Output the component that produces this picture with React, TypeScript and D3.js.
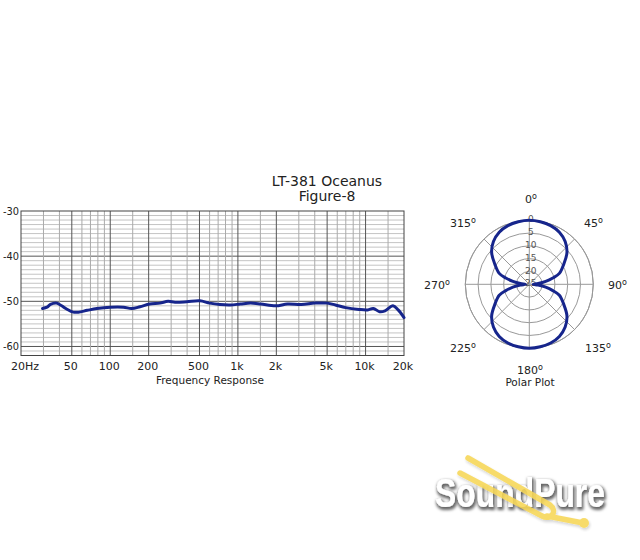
import React from "react";
import * as d3 from "d3";

// ---------- data ----------
const titleLines = ["LT-381 Oceanus", "Figure-8"];

// frequency response (Hz, dB)
const respFreq = [29.5, 32, 34, 38, 41.6, 45.5, 51.4, 56.2, 66, 78.6, 100, 127, 147, 171, 204, 245, 284, 322, 398, 503, 601, 723, 869, 1045, 1256, 1510, 1975, 2450, 3140, 4020, 5000, 5800, 6980, 8890, 10400, 11500, 12900, 14200, 16400, 18000, 20000];
const respDb = [-51.6, -51.3, -50.7, -50.4, -51.0, -51.7, -52.4, -52.4, -52.0, -51.6, -51.3, -51.3, -51.6, -51.2, -50.6, -50.4, -50.0, -50.2, -50.1, -49.9, -50.4, -50.7, -50.8, -50.6, -50.4, -50.6, -51.0, -50.6, -50.7, -50.4, -50.4, -50.8, -51.4, -51.8, -51.9, -51.6, -52.3, -52.1, -51.0, -51.9, -53.6];

const yTicks = [-30, -40, -50, -60];
const xTickValues = [20, 50, 100, 200, 500, 1000, 2000, 5000, 10000, 20000];
const xTickLabels = ["20Hz", "50", "100", "200", "500", "1k", "2k", "5k", "10k", "20k"];
const xMinorGrid = [30, 40, 60, 70, 80, 90, 150, 300, 400, 600, 700, 800, 900, 1500, 3000, 4000, 6000, 7000, 8000, 9000, 15000];

// polar pattern (degrees, dB)
const polarAngles = [0, 10, 20, 30, 40, 50, 60, 70, 75, 80, 85, 90, 95, 100, 105, 110, 120, 130, 140, 150, 160, 170, 180, 190, 200, 210, 220, 230, 240, 250, 255, 260, 265, 270, 275, 280, 285, 290, 300, 310, 320, 330, 340, 350];
const polarDb = [0, -0.2, -0.6, -1.5, -3.2, -5.8, -9.5, -12.5, -15.5, -18.5, -21.5, -23.5, -21.5, -18.5, -15.5, -12.5, -9.5, -5.8, -3.2, -1.5, -0.6, -0.2, 0, -0.2, -0.6, -1.5, -3.2, -5.8, -9.5, -12.5, -15.5, -18.5, -21.5, -23.5, -21.5, -18.5, -15.5, -12.5, -9.5, -5.8, -3.2, -1.5, -0.6, -0.2];
const ringDb = [0, -5, -10, -15, -20, -25];
const ringLabels = ["0", "5", "10", "15", "20", "25"];
const spokeAngles = [0, 45, 90, 135, 180, 225, 270, 315];
const spokeLabels = ["0", "45", "90", "135", "180", "225", "270", "315"];

const FONT = "'DejaVu Sans', Verdana, sans-serif";
const CURVE = "#16258c";
const YELLOW = "#f7d757";

function Deg({ x, y, label, anchor }: { x: number; y: number; label: string; anchor: string }) {
  return (
    <text x={x} y={y} textAnchor={anchor} fontFamily={FONT} fontSize={11} fill="#222">
      {label}
      <tspan fontSize={8} dy={-4}>o</tspan>
    </text>
  );
}

export default function App() {
  // ---- frequency response chart ----
  const fx = d3.scaleLog().domain([20, 20000]).range([21, 404]);
  const fy = d3.scaleLinear().domain([-30, -62]).range([211, 355.5]);
  const dbLines = d3.range(-31, -62, -1);
  const line = d3
    .line<number>()
    .x((_, i) => fx(respFreq[i]))
    .y((d) => fy(d))
    .curve(d3.curveCatmullRom.alpha(0.5));

  // ---- polar ----
  const cx = 529.3, cy = 284.3;
  const pr = d3.scaleLinear().domain([-25, 0]).range([0, 64]).clamp(true);
  const outerR = pr(5);
  const polarLine = d3
    .lineRadial<number>()
    .angle((_, i) => (polarAngles[i] * Math.PI) / 180)
    .radius((d) => pr(d))
    .curve(d3.curveCatmullRomClosed.alpha(0.5));

  const labelPos = [
    { x: 531, y: 203, a: "middle" },
    { x: 584, y: 227, a: "start" },
    { x: 608, y: 289, a: "start" },
    { x: 585, y: 352, a: "start" },
    { x: 530, y: 374, a: "middle" },
    { x: 476, y: 352, a: "end" },
    { x: 450, y: 289, a: "end" },
    { x: 476, y: 227, a: "end" },
  ];

  return (
    <svg width={640} height={560} style={{ position: "absolute", left: 0, top: 0, background: "#fff" }}>
      <defs>
        <filter id="shadow" x="-20%" y="-40%" width="140%" height="180%">
          <feMorphology in="SourceAlpha" operator="dilate" radius="0.6" result="d" />
          <feGaussianBlur in="d" stdDeviation="1.4" result="b" />
          <feOffset in="b" dx="1" dy="1.5" result="o" />
          <feFlood floodColor="#000" floodOpacity="0.6" />
          <feComposite in2="o" operator="in" result="s" />
          <feMerge>
            <feMergeNode in="s" />
            <feMergeNode in="SourceGraphic" />
          </feMerge>
        </filter>
        <filter id="fshadow" x="-20%" y="-40%" width="140%" height="180%">
          <feGaussianBlur in="SourceAlpha" stdDeviation="1.5" result="b" />
          <feOffset in="b" dx="1" dy="1.5" result="o" />
          <feFlood floodColor="#000" floodOpacity="0.2" />
          <feComposite in2="o" operator="in" result="s" />
          <feMerge>
            <feMergeNode in="s" />
            <feMergeNode in="SourceGraphic" />
          </feMerge>
        </filter>
      </defs>

      {/* title */}
      {titleLines.map((t, i) => (
        <text key={t} x={327} y={186 + i * 15} textAnchor="middle" fontFamily={FONT} fontSize={14} fill="#222">
          {t}
        </text>
      ))}

      {/* frequency grid */}
      <g>
        {dbLines.map((d) => (
          <line key={"h" + d} x1={fx(20)} x2={fx(20000)} y1={fy(d)} y2={fy(d)} stroke={d % 10 === 0 ? "#555" : "#c4c4c4"} strokeWidth={1} />
        ))}
        {xMinorGrid.map((f) => (
          <line key={"m" + f} x1={fx(f)} x2={fx(f)} y1={fy(-30)} y2={fy(-62)} stroke="#aaa" strokeWidth={1} />
        ))}
        {xTickValues.slice(1, -1).map((f) => (
          <line key={"M" + f} x1={fx(f)} x2={fx(f)} y1={fy(-30)} y2={fy(-62)} stroke="#555" strokeWidth={1} />
        ))}
        <rect x={fx(20)} y={fy(-30)} width={fx(20000) - fx(20)} height={fy(-62) - fy(-30)} fill="none" stroke="#444" strokeWidth={1} />
      </g>
      {yTicks.map((t) => (
        <text key={t} x={19} y={fy(t) + 4} textAnchor="end" fontFamily={FONT} fontSize={11} fill="#222" textLength={16} lengthAdjust="spacingAndGlyphs">
          {t}
        </text>
      ))}
      {xTickValues.map((f, i) => (
        <text key={f} x={i === 0 ? fx(f) + 4 : fx(f) - 1} y={370} textAnchor="middle" fontFamily={FONT} fontSize={11} fill="#222">
          {xTickLabels[i]}
        </text>
      ))}
      <text x={210} y={384} textAnchor="middle" fontFamily={FONT} fontSize={10.5} fill="#222">
        Frequency Response
      </text>
      <path d={line(respDb) || ""} fill="none" stroke={CURVE} strokeWidth={3} strokeLinejoin="round" strokeLinecap="round" />

      {/* polar plot */}
      <g transform={`translate(${cx},${cy})`}>
        {[pr(5), ...ringDb.slice(0, 5).map((d) => pr(d))].map((r, i) => (
          <circle key={i} r={r} fill="none" stroke="#999" strokeWidth={1} />
        ))}
        {spokeAngles.map((a) => {
          const rad = (a * Math.PI) / 180;
          return <line key={a} x1={0} y1={0} x2={outerR * Math.sin(rad)} y2={-outerR * Math.cos(rad)} stroke="#999" strokeWidth={1} />;
        })}
        {ringDb.map((d, i) => (
          <text key={d} x={1.5} y={-pr(d) + 2} textAnchor="middle" fontFamily={FONT} fontSize={9} fill="#555">
            {ringLabels[i]}
          </text>
        ))}
        <path d={polarLine(polarDb) || ""} fill="none" stroke={CURVE} strokeWidth={3} strokeLinejoin="round" />
      </g>
      {spokeLabels.map((l, i) => (
        <Deg key={l} x={labelPos[i].x} y={labelPos[i].y} label={l} anchor={labelPos[i].a} />
      ))}
      <text x={530} y={386} textAnchor="middle" fontFamily={FONT} fontSize={10.5} fill="#222">
        Polar Plot
      </text>

      {/* logo */}
      <g filter="url(#shadow)">
        <text x={435} y={507} fontFamily="'Liberation Sans', Arial, sans-serif" fontWeight={700} fontSize={41} fill="#fff" textLength={170} lengthAdjust="spacingAndGlyphs">
          SoundPure
        </text>
      </g>
      <g filter="url(#fshadow)" opacity={0.88}>
        <path d="M468,458 L550,505 C558,511 551,521 542,516 L460,473" fill="none" stroke={YELLOW} strokeWidth={5.5} strokeLinecap="round" strokeLinejoin="round" />
        <line x1={547} y1={516} x2={583} y2={523} stroke={YELLOW} strokeWidth={5.5} strokeLinecap="round" />
        <circle cx={584} cy={523} r={5} fill={YELLOW} />
      </g>
    </svg>
  );
}
